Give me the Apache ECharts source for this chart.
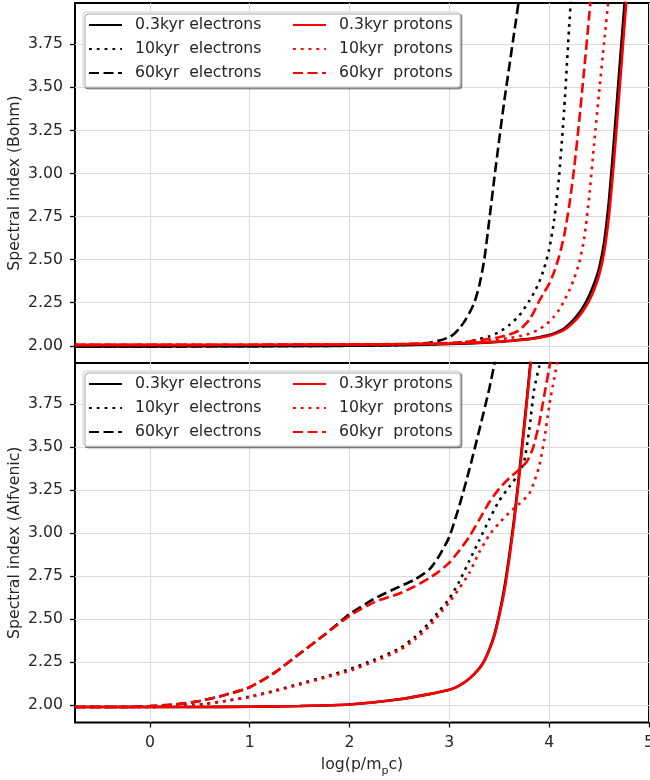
<!DOCTYPE html>
<html>
<head>
<meta charset="utf-8">
<script src="https://cdn.jsdelivr.net/npm/echarts@6/dist/echarts.min.js"></script>
<style>
html,body{margin:0;padding:0;background:#fff;}
#chart{width:650px;height:780px;}
</style>
</head>
<body>
<div id="chart"></div>
<script>
// ---------- data ----------
const seriesNames = ['0.3kyr electrons','10kyr  electrons','60kyr  electrons','0.3kyr protons','10kyr  protons','60kyr  protons'];
const xTicks = [0,1,2,3,4,5];
const yTicks = [2.00,2.25,2.50,2.75,3.00,3.25,3.50,3.75];

// Bohm panel
const bohmE03x = [-0.75,0,1,2,2.5,3,3.2,3.4,3.6,3.8,3.9,4.0,4.1,4.15,4.2,4.25,4.3,4.35,4.4,4.45,4.5,4.55,4.6,4.65,4.7,4.75,4.8];
const bohmE03y = [1.995,1.996,1.998,2.0,2.003,2.01,2.014,2.02,2.028,2.04,2.05,2.062,2.085,2.1,2.125,2.155,2.19,2.235,2.29,2.36,2.45,2.6,2.85,3.2,3.58,3.95,4.33];
const bohmE10x = [-0.75,0,1,2,2.5,2.8,3.0,3.2,3.4,3.5,3.6,3.7,3.8,3.85,3.9,3.95,4.0,4.05,4.1,4.15,4.2,4.25];
const bohmE10y = [1.995,1.996,1.998,2.0,2.004,2.008,2.014,2.025,2.055,2.08,2.12,2.175,2.26,2.31,2.37,2.45,2.56,2.73,2.99,3.37,3.85,4.3];
const bohmE60x = [-0.75,0,1,2,2.5,2.7,2.8,2.9,3.0,3.05,3.1,3.15,3.2,3.25,3.3,3.35,3.4,3.45,3.5,3.55,3.6,3.65,3.7,3.75];
const bohmE60y = [1.995,1.996,1.998,2.0,2.006,2.012,2.018,2.03,2.05,2.07,2.1,2.14,2.19,2.25,2.35,2.5,2.73,2.97,3.2,3.42,3.62,3.82,4.02,4.22];
const bohmP03x = [-0.75,0,1,2,2.5,3,3.2,3.4,3.6,3.8,3.9,4.0,4.1,4.15,4.2,4.25,4.3,4.35,4.4,4.45,4.5,4.55,4.6,4.65,4.7,4.75,4.8];
const bohmP03y = [2.005,2.005,2.006,2.007,2.009,2.013,2.016,2.021,2.028,2.038,2.047,2.058,2.078,2.092,2.113,2.14,2.172,2.212,2.26,2.325,2.41,2.54,2.76,3.08,3.45,3.83,4.2];
const bohmP10x = [-0.75,0,1,2,2.5,3.0,3.2,3.4,3.6,3.7,3.8,3.9,4.0,4.05,4.1,4.15,4.2,4.25,4.3,4.35,4.4,4.45,4.5,4.55,4.6,4.65];
const bohmP10y = [2.005,2.005,2.006,2.007,2.009,2.014,2.02,2.03,2.045,2.055,2.07,2.095,2.14,2.17,2.21,2.26,2.32,2.39,2.48,2.62,2.86,3.17,3.47,3.76,4.04,4.3];
const bohmP60x = [-0.75,0,1,2,2.5,3.0,3.2,3.4,3.5,3.6,3.7,3.8,3.85,3.9,3.95,4.0,4.05,4.1,4.15,4.2,4.25,4.3,4.35,4.4,4.45];
const bohmP60y = [2.005,2.005,2.006,2.008,2.01,2.016,2.025,2.04,2.05,2.065,2.09,2.15,2.2,2.26,2.31,2.36,2.43,2.52,2.64,2.81,3.03,3.3,3.6,3.91,4.22];

// Alfvenic panel
const alfE03x = [-0.75,0,0.5,1,1.5,2,2.5,2.8,3.0,3.1,3.2,3.3,3.35,3.4,3.45,3.5,3.55,3.6,3.65,3.7,3.75,3.8,3.85];
const alfE03y = [1.99,1.99,1.99,1.992,1.996,2.005,2.035,2.065,2.09,2.115,2.155,2.215,2.26,2.325,2.41,2.53,2.68,2.87,3.09,3.35,3.63,3.92,4.22];
const alfE10x = [-0.75,0,0.25,0.5,0.75,1.0,1.25,1.5,1.75,2.0,2.25,2.5,2.65,2.8,2.9,3.0,3.1,3.2,3.3,3.4,3.5,3.6,3.7,3.75,3.8,3.85,3.9,3.95];
const alfE10y = [1.99,1.99,1.995,2.005,2.025,2.05,2.085,2.125,2.165,2.21,2.265,2.33,2.395,2.48,2.55,2.62,2.72,2.84,2.96,3.08,3.19,3.27,3.35,3.42,3.6,3.84,3.97,4.12];
const alfE60x = [-0.75,-0.25,0,0.25,0.5,0.75,1.0,1.25,1.5,1.75,2.0,2.25,2.5,2.65,2.8,2.9,3.0,3.1,3.2,3.3,3.4,3.45,3.5];
const alfE60y = [1.99,1.99,1.995,2.005,2.025,2.06,2.105,2.19,2.3,2.41,2.53,2.62,2.69,2.73,2.79,2.87,2.98,3.16,3.37,3.6,3.84,3.98,4.12];
const alfP03x = [-0.75,0,0.5,1,1.5,2,2.5,2.8,3.0,3.1,3.2,3.3,3.35,3.4,3.45,3.5,3.55,3.6,3.65,3.7,3.75,3.8,3.85];
const alfP03y = [1.99,1.99,1.99,1.992,1.996,2.005,2.035,2.065,2.09,2.115,2.155,2.213,2.257,2.32,2.4,2.52,2.66,2.85,3.07,3.33,3.61,3.9,4.2];
const alfP10x = [-0.75,0,0.25,0.5,0.75,1.0,1.25,1.5,1.75,2.0,2.25,2.5,2.65,2.8,2.9,3.0,3.1,3.2,3.3,3.4,3.5,3.6,3.7,3.8,3.85,3.9,3.95,4.0,4.05,4.1];
const alfP10y = [1.99,1.99,1.995,2.005,2.024,2.048,2.082,2.12,2.16,2.2,2.255,2.32,2.38,2.46,2.53,2.6,2.68,2.77,2.89,2.99,3.06,3.12,3.17,3.23,3.3,3.39,3.54,3.74,3.9,4.05];
const alfP60x = [-0.75,-0.25,0,0.25,0.5,0.75,1.0,1.25,1.5,1.75,2.0,2.25,2.5,2.65,2.8,2.9,3.0,3.1,3.2,3.3,3.4,3.5,3.6,3.7,3.78,3.84,3.9,3.95,4.0,4.05];
const alfP60y = [1.99,1.99,1.995,2.005,2.025,2.06,2.105,2.19,2.30,2.41,2.52,2.60,2.65,2.69,2.74,2.78,2.83,2.9,2.98,3.08,3.18,3.26,3.32,3.37,3.42,3.5,3.64,3.8,3.96,4.12];

// ---------- styling ----------
const FONT = 'DejaVu Sans';
const TXT = '#262626';
const FS = 15.7;
const SOLID = 'solid', DOT = [2.8, 5], DASH = [10, 4.5];

function pairs(xs, ys){ return xs.map((x,i)=>[x, ys[i]]); }
function mk(name, xs, ys, color, dash, g){
  return {
    name, type:'line', xAxisIndex:g, yAxisIndex:g, data:pairs(xs,ys),
    symbol:'none', smooth:0.2, clip:true, animation:false,
    lineStyle:{color, width:2.6, type:dash, cap:'butt'},
    itemStyle:{color}, emphasis:{disabled:true}
  };
}

const series = [
  mk(seriesNames[0], bohmE03x, bohmE03y, '#000', SOLID, 0),
  mk(seriesNames[1], bohmE10x, bohmE10y, '#000', DOT, 0),
  mk(seriesNames[2], bohmE60x, bohmE60y, '#000', DASH, 0),
  mk(seriesNames[3], bohmP03x, bohmP03y, '#ff0000', SOLID, 0),
  mk(seriesNames[4], bohmP10x, bohmP10y, '#ff0000', DOT, 0),
  mk(seriesNames[5], bohmP60x, bohmP60y, '#ff0000', DASH, 0),
  mk(seriesNames[0], alfE03x, alfE03y, '#000', SOLID, 1),
  mk(seriesNames[1], alfE10x, alfE10y, '#000', DOT, 1),
  mk(seriesNames[2], alfE60x, alfE60y, '#000', DASH, 1),
  mk(seriesNames[3], alfP03x, alfP03y, '#ff0000', SOLID, 1),
  mk(seriesNames[4], alfP10x, alfP10y, '#ff0000', DOT, 1),
  mk(seriesNames[5], alfP60x, alfP60y, '#ff0000', DASH, 1)
];

const gridLine = {show:true, lineStyle:{color:'#dcdcdc', width:1}};
function xAx(g, showLabels){
  return {
    type:'value', gridIndex:g, min:-0.75, max:5,
    axisLine:{show:false, onZero:false},
    axisTick:{show:showLabels, customValues:xTicks, length:5, inside:false, lineStyle:{color:'#000', width:1.3}},
    axisLabel:{show:showLabels, customValues:xTicks, margin:12, color:TXT, fontFamily:FONT, fontSize:FS},
    splitLine:gridLine,
    name: showLabels ? 'log(p/m{sub|p}c)' : '',
    nameLocation:'middle', nameGap:30, nameMoveOverlap:false,
    nameTextStyle:{color:TXT, fontFamily:FONT, fontSize:FS,
      rich:{sub:{fontSize:11, fontFamily:FONT, color:TXT, lineHeight:24, verticalAlign:'bottom'}}}
  };
}
function yAx(g, name){
  return {
    type:'value', gridIndex:g, min:1.9, max:3.99,
    axisLine:{show:false, onZero:false},
    axisTick:{show:true, customValues:yTicks, length:5, inside:false, lineStyle:{color:'#000', width:1.3}},
    axisLabel:{customValues:yTicks, margin:12, color:TXT, fontFamily:FONT, fontSize:FS,
      formatter:v=>Number(v).toFixed(2)},
    splitLine:gridLine,
    name, nameLocation:'middle', nameGap:52, nameRotate:90, nameMoveOverlap:false,
    nameTextStyle:{color:TXT, fontFamily:FONT, fontSize:FS}
  };
}

function legend(left, top, names){
  return {
    orient:'vertical', left, top, padding:0, data:names,
    itemWidth:33, itemHeight:14, itemGap:6,
    itemStyle:{color:'transparent', borderColor:'transparent', borderWidth:0, opacity:0},
    textStyle:{color:TXT, fontFamily:FONT, fontSize:FS, lineHeight:18, padding:[0,0,0,8]},
    selectedMode:false
  };
}
const eNames = seriesNames.slice(0,3), pNames = seriesNames.slice(3);

function box(top){
  return {type:'rect', z:3, shape:{x:83, y:top, width:377, height:75, r:3},
    style:{fill:'#ffffff', stroke:'#cfcfcf', lineWidth:1,
      shadowColor:'rgba(0,0,0,0.35)', shadowOffsetX:2, shadowOffsetY:2, shadowBlur:0}};
}

const chart = echarts.init(document.getElementById('chart'), null, {renderer:'canvas'});
chart.setOption({
  animation:false,
  backgroundColor:'#fff',
  textStyle:{fontFamily:FONT},
  grid:[
    {left:75, top:3, width:574, height:360, show:true, borderColor:'#000', borderWidth:2, backgroundColor:'transparent', containLabel:false, outerBoundsMode:'none'},
    {left:75, top:363, width:574, height:359.5, show:true, borderColor:'#000', borderWidth:2, backgroundColor:'transparent', containLabel:false, outerBoundsMode:'none'}
  ],
  xAxis:[xAx(0,false), xAx(1,true)],
  yAxis:[yAx(0,'Spectral index (Bohm)'), yAx(1,'Spectral index (Alfvenic)')],
  legend:[
    legend(88, 16, eNames), legend(292, 16, pNames),
    legend(88, 375, eNames), legend(292, 375, pNames)
  ],
  graphic:[box(12), box(371)],
  series
});
</script>
</body>
</html>
